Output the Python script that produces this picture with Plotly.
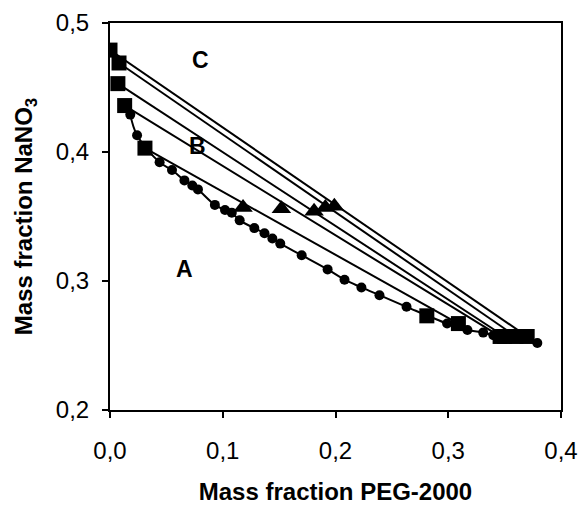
import plotly.graph_objects as go

# binodal curve points (circles)
bin_x = [0.018, 0.024, 0.044, 0.055, 0.066, 0.073, 0.078, 0.093, 0.102, 0.108, 0.115,
         0.128, 0.137, 0.144, 0.151, 0.170, 0.193, 0.208, 0.223, 0.239, 0.263, 0.299,
         0.317, 0.331, 0.340, 0.379]
bin_y = [0.429, 0.413, 0.392, 0.386, 0.378, 0.374, 0.371, 0.359, 0.355, 0.353, 0.347,
         0.341, 0.337, 0.333, 0.329, 0.320, 0.309, 0.301, 0.295, 0.289, 0.280, 0.267,
         0.262, 0.260, 0.258, 0.252]

# tie-line end compositions (squares)
sq_x = [0.000, 0.008, 0.007, 0.013, 0.031, 0.281, 0.309, 0.346, 0.350, 0.360, 0.370]
sq_y = [0.479, 0.469, 0.453, 0.436, 0.403, 0.273, 0.267, 0.257, 0.257, 0.257, 0.257]

# tie lines: top phase -> bottom phase
tie_x1 = [0.000, 0.008, 0.007, 0.013, 0.031]
tie_y1 = [0.479, 0.469, 0.453, 0.436, 0.403]
tie_x2 = [0.370, 0.360, 0.350, 0.346, 0.309]
tie_y2 = [0.257, 0.257, 0.257, 0.257, 0.267]

# feed compositions (triangles)
tri_x = [0.118, 0.152, 0.181, 0.191, 0.199]
tri_y = [0.357, 0.356, 0.354, 0.357, 0.358]

# region labels
lab_text = ['C', 'B', 'A']
lab_x = [0.080, 0.078, 0.066]
lab_y = [0.471, 0.405, 0.309]

font_family = 'Arial, Liberation Sans, sans-serif'

fig = go.Figure()

for i in range(len(tie_x1)):
    fig.add_trace(go.Scatter(
        x = [tie_x1[i], tie_x2[i]],
        y = [tie_y1[i], tie_y2[i]],
        mode = 'lines',
        line = dict(color = 'black', width = 2),
        showlegend = False
    ))

fig.add_trace(go.Scatter(
    x = bin_x, y = bin_y,
    mode = 'lines+markers',
    line = dict(color = 'black', width = 2, shape = 'spline'),
    marker = dict(symbol = 'circle', size = 10, color = 'black'),
    showlegend = False
))

fig.add_trace(go.Scatter(
    x = sq_x, y = sq_y,
    mode = 'markers',
    marker = dict(symbol = 'square', size = 15, color = 'black'),
    showlegend = False
))

fig.add_trace(go.Scatter(
    x = tri_x, y = tri_y,
    mode = 'markers',
    marker = dict(symbol = 'triangle-up', size = 17, color = 'black'),
    showlegend = False
))

for t, x, y in zip(lab_text, lab_x, lab_y):
    fig.add_annotation(
        x = x, y = y, text = '<b>' + t + '</b>',
        showarrow = False,
        font = dict(family = font_family, size = 23, color = 'black')
    )

fig.update_layout(
    width = 581,
    height = 506,
    margin = dict(l = 110, r = 20, t = 23, b = 96),
    plot_bgcolor = 'white',
    paper_bgcolor = 'white',
    font = dict(family = font_family, color = 'black', size = 24),
    showlegend = False
)

fig.update_xaxes(
    range = [0, 0.4],
    tickvals = [0, 0.1, 0.2, 0.3, 0.4],
    ticktext = ['0,0', '0,1', '0,2', '0,3', '0,4'],
    ticks = 'outside', ticklen = 6, tickwidth = 1.5, tickcolor = 'black',
    showline = True, linecolor = 'black', linewidth = 2, mirror = True,
    showgrid = False, zeroline = False, automargin = False,
    tickfont = dict(size = 24),
    ticklabelstandoff = 12,
    title = dict(text = '<b>Mass fraction PEG-2000</b>', font = dict(size = 24), standoff = 20)
)

fig.update_yaxes(
    range = [0.2, 0.5],
    tickvals = [0.2, 0.3, 0.4, 0.5],
    ticktext = ['0,2', '0,3', '0,4', '0,5'],
    ticks = 'outside', ticklen = 6, tickwidth = 1.5, tickcolor = 'black',
    showline = True, linecolor = 'black', linewidth = 2, mirror = True,
    showgrid = False, zeroline = False, automargin = False,
    tickfont = dict(size = 24),
    ticklabelstandoff = 8,
    title = dict(text = '<b>Mass fraction NaNO<sub>3</sub></b>', font = dict(size = 24), standoff = 16)
)

# drop the default page margin so the figure fills the window exactly
fig.write_html("out.html", config = {'displayModeBar': False},
               post_script = "document.body.style.margin = '0';")
